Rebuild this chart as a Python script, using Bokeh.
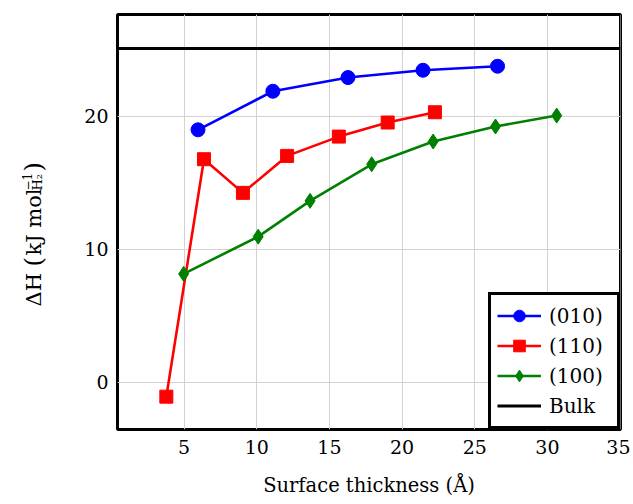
import math
from bokeh.plotting import figure
from bokeh.layouts import row
from bokeh.models import (Range1d, FixedTicker, Legend, LegendItem, Label)
from bokeh.embed import file_html
from bokeh.resources import INLINE

# ---- data ----
thickness_010 = [5.96, 11.11, 16.28, 21.44, 26.57]
dh_010 = [18.98, 21.88, 22.91, 23.46, 23.76]

thickness_110 = [3.78, 6.37, 9.05, 12.09, 15.65, 19.01, 22.26]
dh_110 = [-1.08, 16.77, 14.24, 17.02, 18.47, 19.53, 20.30]

thickness_100 = [4.97, 10.10, 13.67, 17.91, 22.14, 26.43, 30.64]
dh_100 = [8.15, 10.95, 13.64, 16.39, 18.10, 19.23, 20.05]

bulk_dh = 25.1

x_ticks = [5, 10, 15, 20, 25, 30, 35]
y_ticks = [0, 10, 20]
series_names = ["(010)", "(110)", "(100)", "Bulk"]

X_START, X_END = 0.42, 35.03
Y_START, Y_END = -3.55, 27.65

FONT = "DejaVu Serif"

H = 502
LABEL_W = 60          # width of the strip holding the y-axis title
W = 630 - LABEL_W
BL, BR, BT, BB = 117 - LABEL_W, 10, 14, 73

fig = figure(width=W, height=H, output_backend="svg", toolbar_location=None,
             x_range=Range1d(X_START, X_END), y_range=Range1d(Y_START, Y_END),
             min_border_left=BL, min_border_right=BR, min_border_top=BT,
             min_border_bottom=BB)

fig.background_fill_color = "white"
fig.border_fill_color = "white"
fig.outline_line_color = "black"
fig.outline_line_width = 3

fig.xaxis.ticker = FixedTicker(ticks=x_ticks)
fig.yaxis.ticker = FixedTicker(ticks=y_ticks)
for ax in (fig.xaxis, fig.yaxis):
    ax.axis_line_color = None
    ax.major_tick_line_color = None
    ax.minor_tick_line_color = None
    ax.major_tick_in = 0
    ax.major_tick_out = 0
    ax.major_label_text_font = FONT
    ax.major_label_text_font_size = "19px"
    ax.major_label_text_color = "black"
    ax.axis_label_text_font = FONT
    ax.axis_label_text_font_size = "19.5px"
    ax.axis_label_text_font_style = "normal"
    ax.axis_label_text_color = "black"
fig.xaxis.major_label_standoff = 10
fig.yaxis.major_label_standoff = 9
fig.xaxis.axis_label = "Surface thickness (Å)"
fig.xaxis.axis_label_standoff = 17

fig.xgrid.grid_line_color = "#d3d3d3"
fig.ygrid.grid_line_color = "#d3d3d3"
fig.xgrid.grid_line_width = 1
fig.ygrid.grid_line_width = 1

blue, red, green = "#0000ff", "#ff0000", "#008000"
lw = 2.6

l1 = fig.line(thickness_010, dh_010, line_color=blue, line_width=lw)
m1 = fig.scatter(thickness_010, dh_010, marker="circle", size=14, color=blue)
l2 = fig.line(thickness_110, dh_110, line_color=red, line_width=lw)
m2 = fig.scatter(thickness_110, dh_110, marker="square", size=13, color=red)
l3 = fig.line(thickness_100, dh_100, line_color=green, line_width=lw)
m3 = fig.scatter(thickness_100, dh_100, marker="diamond", size=15, color=green)
lb = fig.line([X_START, X_END], [bulk_dh, bulk_dh], line_color="black", line_width=3)

legend = Legend(items=[
    LegendItem(label=series_names[0], renderers=[l1, m1]),
    LegendItem(label=series_names[1], renderers=[l2, m2]),
    LegendItem(label=series_names[2], renderers=[l3, m3]),
    LegendItem(label=series_names[3], renderers=[lb]),
], location="bottom_right")
legend.margin = 0
legend.padding = 6
legend.spacing = 1
legend.glyph_width = 44
legend.glyph_height = 29
legend.label_height = 29
legend.label_width = 62
legend.label_standoff = 8
legend.label_text_font = FONT
legend.label_text_font_size = "20px"
legend.label_text_color = "black"
legend.border_line_color = "black"
legend.border_line_alpha = 1
legend.border_line_width = 3
legend.background_fill_color = "white"
legend.background_fill_alpha = 1
fig.add_layout(legend)

# ---- y-axis title strip: a bare figure whose data units are page pixels ----
# (its frame shares the main plot's top/bottom borders, so y data = H - page y)
lab = figure(width=LABEL_W, height=H, output_backend="svg",
             toolbar_location=None, title_location=None,
             x_range=Range1d(0, LABEL_W), y_range=Range1d(BB, H - BT),
             x_axis_type=None, y_axis_type=None,
             min_border_left=0, min_border_right=0, min_border_top=BT,
             min_border_bottom=BB)
lab.outline_line_color = None
lab.background_fill_color = "white"
lab.border_fill_color = "white"

ang = math.pi / 2
title_parts = [  # (text, page x of baseline, page y where the text starts, size)
    ("ΔH", 33, 306, "21px"),
    ("(", 33, 266, "24px"),
    ("kJ mol", 33, 255, "21px"),
    ("−1", 26, 190, "12px"),
    ("H₂", 37, 190, "13px"),
    (")", 33, 171, "24px"),
]
for txt, px, py, fs in title_parts:
    lab.add_layout(Label(x=px, y=H - py, text=txt, angle=ang, text_font=FONT,
                         text_font_size=fs, text_baseline="alphabetic",
                         text_align="left", text_color="black"))

p = row(lab, fig, spacing=0)

open("out.html", "w").write(file_html(p, INLINE))
